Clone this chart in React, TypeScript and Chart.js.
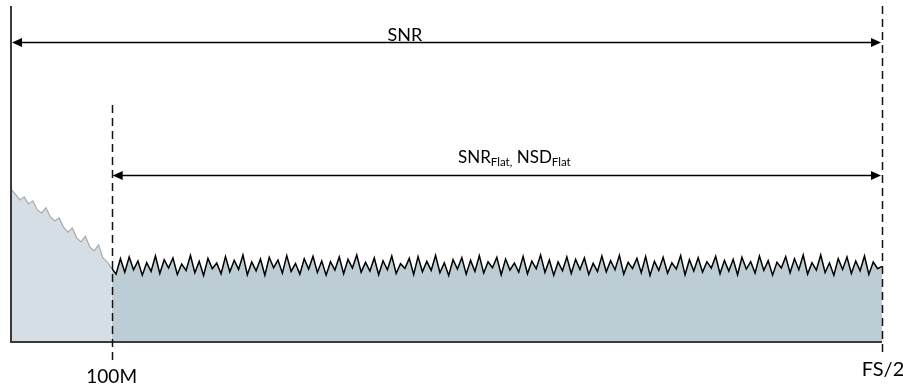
import { useEffect, useRef } from 'react';
import { Chart, registerables } from 'chart.js';
Chart.register(...registerables);

// Noise trace below 100M (decaying 1/f region)
const LIGHT_NOISE = [
  45.5, 44.0, 42.3, 43.2, 41.1, 42.0, 39.3, 38.4, 39.9, 37.2, 36.0, 36.9,
  34.2, 32.7, 33.9, 31.0, 29.8, 31.5, 28.3, 27.1, 28.9, 25.0, 23.8, 22.0,
];

// Flat noise trace from 100M to FS/2
const FLAT_NOISE = [
  22.0,
  20.2, 24.8, 20.8, 25.3, 21.5, 24.1, 19.9, 23.6, 21.0, 25.6, 20.4, 24.5, 22.0, 25.0, 20.1, 23.2, 21.3, 25.8, 20.6, 24.0,
  19.8, 24.9, 21.8, 23.5, 20.3, 25.4, 20.9, 24.3, 21.6, 25.9, 20.0, 23.8, 21.2, 24.7, 19.9, 25.2, 22.1, 24.4, 20.5, 25.7,
  21.0, 23.4, 20.2, 24.8, 21.7, 25.5, 20.7, 24.1, 19.9, 23.9, 21.4, 25.3, 20.3, 24.6, 22.0, 25.9, 20.8, 23.7, 21.1, 25.0,
  20.0, 24.2, 21.5, 25.6, 20.4, 23.3, 21.9, 24.9, 20.1, 25.4, 20.9, 24.0, 21.3, 25.8, 20.6, 23.6, 19.8, 24.5, 21.7, 25.1,
  20.2, 24.3, 21.0, 25.7, 20.5, 23.9, 22.1, 25.2, 20.0, 24.7, 21.4, 23.5, 20.8, 25.5, 20.3, 24.1, 21.8, 25.9, 20.7, 24.4,
  19.9, 23.8, 21.2, 25.3, 20.4, 24.6, 21.6, 25.0, 20.1, 23.4, 21.0, 25.6, 20.9, 24.2, 21.5, 25.8, 20.2, 23.7, 21.9, 24.9,
  20.6, 25.4, 19.8, 24.0, 21.3, 25.2, 20.5, 23.6, 21.7, 25.7, 20.0, 24.5, 21.1, 25.1, 20.8, 23.9, 22.0, 25.5, 20.3, 24.3,
  21.1, 24.6, 20.0, 25.2, 21.7, 23.9, 20.5, 25.6, 21.3, 24.2, 19.9, 23.7, 22.0, 25.4, 20.6, 24.8, 21.5, 25.9, 20.2, 23.6,
  21.4, 25.9, 20.7, 23.5, 19.9, 24.8, 21.6, 25.3, 20.4, 24.1, 21.2, 25.6, 20.1, 23.8, 21.8, 22.5,
];

const BREAK_INDEX = LIGHT_NOISE.length - 1; // 100M sample index
const N_SAMPLES = BREAK_INDEX + FLAT_NOISE.length;
const categories = Array.from({ length: N_SAMPLES }, (_, i) => String(i));

// Frequency markers (tick labels) and their sample index
const tickLabels = ['100M', 'FS/2'];
const tickIndex = [BREAK_INDEX, N_SAMPLES - 1];
const tickLabelDrop = [41, 34];
const markerTop = [70.5, 100]; // top of each dashed marker (y units)
const markerTail = [18, 10]; // extension below the axis

// Arrows: level, from index, to index
const arrowLevel = [89.3, 49.7];
const arrowFrom = [0, BREAK_INDEX];
const arrowTo = [N_SAMPLES - 1, N_SAMPLES - 1];
// Arrow labels: centre index and level
const labelIndex = [90, 115];
const labelLevel = [91.5, 55];

const FONT = 'Lato, "Open Sans", sans-serif';

const annotations = {
  id: 'annotations',
  afterDatasetsDraw(chart: any) {
    const { ctx, chartArea, scales } = chart;
    const x = scales.x;
    const y = scales.y;
    ctx.save();

    // axes
    ctx.strokeStyle = '#3a3a3a';
    ctx.lineWidth = 2;
    ctx.beginPath();
    ctx.moveTo(chartArea.left, chartArea.top);
    ctx.lineTo(chartArea.left, chartArea.bottom);
    ctx.lineTo(chartArea.right, chartArea.bottom);
    ctx.stroke();

    // dashed markers
    ctx.strokeStyle = '#111';
    ctx.lineWidth = 1.5;
    ctx.setLineDash([8, 5]);
    tickIndex.forEach((ti, k) => {
      const px = Math.round(x.getPixelForValue(ti)) + 0.5;
      ctx.beginPath();
      ctx.moveTo(px, y.getPixelForValue(markerTop[k]));
      ctx.lineTo(px, chartArea.bottom + markerTail[k]);
      ctx.stroke();
    });
    ctx.setLineDash([]);

    // arrows
    const head = (px: number, py: number, dir: number) => {
      ctx.beginPath();
      ctx.moveTo(px, py);
      ctx.lineTo(px + dir * 10, py - 4.5);
      ctx.lineTo(px + dir * 10, py + 4.5);
      ctx.closePath();
      ctx.fill();
    };
    ctx.fillStyle = '#000';
    ctx.strokeStyle = '#000';
    ctx.lineWidth = 1.5;
    arrowLevel.forEach((lv, k) => {
      const py = Math.round(y.getPixelForValue(lv)) + 0.5;
      const x1 = x.getPixelForValue(arrowFrom[k]) + 1;
      const x2 = x.getPixelForValue(arrowTo[k]) - 1;
      ctx.beginPath();
      ctx.moveTo(x1 + 5, py);
      ctx.lineTo(x2 - 5, py);
      ctx.stroke();
      head(x1, py, 1);
      head(x2, py, -1);
    });

    // labels
    ctx.fillStyle = '#000';
    ctx.textBaseline = 'alphabetic';
    ctx.font = `18px ${FONT}`;
    ctx.textAlign = 'center';
    ctx.fillText('SNR', x.getPixelForValue(labelIndex[0]), y.getPixelForValue(labelLevel[0]) + 6);

    const parts: [string, boolean][] = [['SNR', false], ['Flat,', true], [' NSD', false], ['Flat', true]];
    const big = `17px ${FONT}`;
    const small = `11.5px ${FONT}`;
    let total = 0;
    parts.forEach(([t, sub]) => { ctx.font = sub ? small : big; total += ctx.measureText(t).width; });
    let cur = x.getPixelForValue(labelIndex[1]) - total / 2;
    const base = y.getPixelForValue(labelLevel[1]) + 6;
    ctx.textAlign = 'left';
    parts.forEach(([t, sub]) => {
      ctx.font = sub ? small : big;
      ctx.fillText(t, cur, sub ? base + 3 : base);
      cur += ctx.measureText(t).width;
    });

    // tick labels
    ctx.textAlign = 'center';
    tickIndex.forEach((ti, k) => {
      ctx.font = `${k === 1 ? 20 : 19}px ${FONT}`;
      ctx.fillText(tickLabels[k], x.getPixelForValue(ti) + (k === 1 ? 1 : 0), chartArea.bottom + tickLabelDrop[k]);
    });
    ctx.restore();
  },
};

export default function App() {
  const ref = useRef<HTMLCanvasElement>(null);
  useEffect(() => {
    document.body.style.margin = '0';
    const lightData = categories.map((_, i) => (i <= BREAK_INDEX ? LIGHT_NOISE[i] : null));
    const flatData = categories.map((_, i) => (i >= BREAK_INDEX ? FLAT_NOISE[i - BREAK_INDEX] : null));
    const chart = new Chart(ref.current as HTMLCanvasElement, {
      type: 'line',
      data: {
        labels: categories,
        datasets: [
          {
            data: lightData,
            borderColor: '#a9a9a9',
            borderWidth: 1.2,
            backgroundColor: '#d6dee5',
            fill: 'origin',
            pointRadius: 0,
            tension: 0,
          },
          {
            data: flatData,
            borderColor: '#000',
            borderWidth: 1.5,
            backgroundColor: '#bccdd5',
            fill: 'origin',
            pointRadius: 0,
            tension: 0,
          },
        ],
      },
      options: {
        animation: false,
        responsive: false,
        layout: { padding: { left: 11, right: 21, top: 6, bottom: 45 } },
        plugins: { legend: { display: false }, tooltip: { enabled: false } },
        scales: {
          x: { type: 'category', display: false, offset: false },
          y: { type: 'linear', display: false, min: 0, max: 100 },
        },
      },
      plugins: [annotations],
    });
    return () => chart.destroy();
  }, []);
  return (
    <div style={{ width: 903, height: 387 }}>
      <canvas ref={ref} width={903} height={387} style={{ width: 903, height: 387, display: 'block' }} />
    </div>
  );
}
